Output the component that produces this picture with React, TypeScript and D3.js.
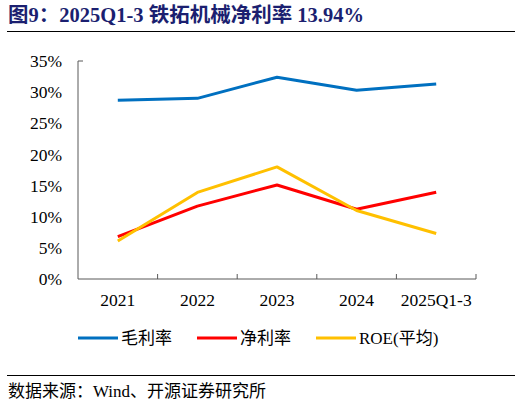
import * as d3 from "d3";
import { useEffect, useRef } from "react";

const categories = ["2021", "2022", "2023", "2024", "2025Q1-3"];
const grossMargin = [28.7, 29.0, 32.4, 30.3, 31.3];
const netMargin = [6.8, 11.7, 15.1, 11.2, 13.94];
const roeAvg = [6.1, 13.9, 18.0, 11.0, 7.3];
const yTicks = [0, 5, 10, 15, 20, 25, 30, 35];
const seriesNames = ["毛利率", "净利率", "ROE(平均)"];
const seriesColors = ["#0070C0", "#FF0000", "#FFC000"];

const W = 522;
const H = 405;
const serif = "'Liberation Serif', 'Times New Roman', 'Noto Sans CJK SC', serif";

export default function App() {
  const svgRef = useRef<SVGSVGElement>(null);

  useEffect(() => {
    if (!svgRef.current) return;
    const svg = d3.select(svgRef.current);
    svg.selectAll("*").remove();

    // Title
    svg
      .append("text")
      .attr("x", 8)
      .attr("y", 22)
      .attr("font-family", serif)
      .attr("font-size", 20.5)
      .attr("font-weight", "bold")
      .attr("fill", "#1B1F70")
      .text("图9：2025Q1-3 铁拓机械净利率 13.94%");

    svg
      .append("line")
      .attr("x1", 7)
      .attr("x2", 515)
      .attr("y1", 31.5)
      .attr("y2", 31.5)
      .attr("stroke", "#000")
      .attr("stroke-width", 1);

    const x = d3.scaleBand().domain(categories).range([78, 476]);
    const y = d3.scaleLinear().domain([0, 35]).range([279, 61]);

    const axisColor = "#595959";

    // Y axis
    const yAxis = svg
      .append("g")
      .attr("transform", "translate(78,0)")
      .call(
        d3
          .axisLeft(y)
          .tickValues(yTicks)
          .tickSize(0)
          .tickPadding(16)
          .tickFormat((d) => `${d}%`),
      );
    yAxis
      .select(".domain")
      .attr("stroke", axisColor)
      .attr("d", `M5,${y(35)}H0V${y(0)}`);
    yAxis
      .selectAll(".tick text")
      .attr("font-family", serif)
      .attr("font-size", 17.5)
      .attr("fill", "#000");

    // X axis
    const xAxis = svg
      .append("g")
      .attr("transform", `translate(0,${y(0)})`)
      .call(d3.axisBottom(x).tickSize(0).tickPadding(15));
    xAxis.select(".domain").attr("stroke", axisColor).attr("d", `M78,0H476V-5`);
    xAxis
      .selectAll(".tick text")
      .attr("font-family", serif)
      .attr("font-size", 17.5)
      .attr("fill", "#000");
    // boundary ticks between categories
    xAxis
      .selectAll(".sep")
      .data(categories.slice(1))
      .enter()
      .append("line")
      .attr("x1", (d) => x(d)!)
      .attr("x2", (d) => x(d)!)
      .attr("y1", 0)
      .attr("y2", -5)
      .attr("stroke", axisColor);

    const series = [grossMargin, netMargin, roeAvg];
    const line = d3
      .line<number>()
      .x((_d, i) => x(categories[i])! + x.bandwidth() / 2)
      .y((d) => y(d));

    series.forEach((s, i) => {
      svg
        .append("path")
        .datum(s)
        .attr("d", line)
        .attr("fill", "none")
        .attr("stroke", seriesColors[i])
        .attr("stroke-width", 3)
        .attr("stroke-linejoin", "round");
    });

    // Legend
    const legendX = [78, 197, 316];
    const legendY = 338;
    seriesNames.forEach((name, i) => {
      const g = svg.append("g").attr("transform", `translate(${legendX[i]},${legendY})`);
      g.append("line")
        .attr("x1", 0)
        .attr("x2", 40)
        .attr("stroke", seriesColors[i])
        .attr("stroke-width", 3);
      g.append("text")
        .attr("x", 43)
        .attr("y", 6)
        .attr("font-family", serif)
        .attr("font-size", 17)
        .attr("fill", "#000")
        .text(name);
    });

    // Footer
    svg
      .append("line")
      .attr("x1", 7)
      .attr("x2", 515)
      .attr("y1", 375.5)
      .attr("y2", 375.5)
      .attr("stroke", "#000")
      .attr("stroke-width", 1);

    svg
      .append("text")
      .attr("x", 8)
      .attr("y", 397)
      .attr("font-family", serif)
      .attr("font-size", 17)
      .attr("fill", "#000")
      .text("数据来源：Wind、开源证券研究所");
  }, []);

  return (
    <svg
      ref={svgRef}
      width={W}
      height={H}
      style={{ position: "absolute", left: 0, top: 0, background: "#fff" }}
    />
  );
}
